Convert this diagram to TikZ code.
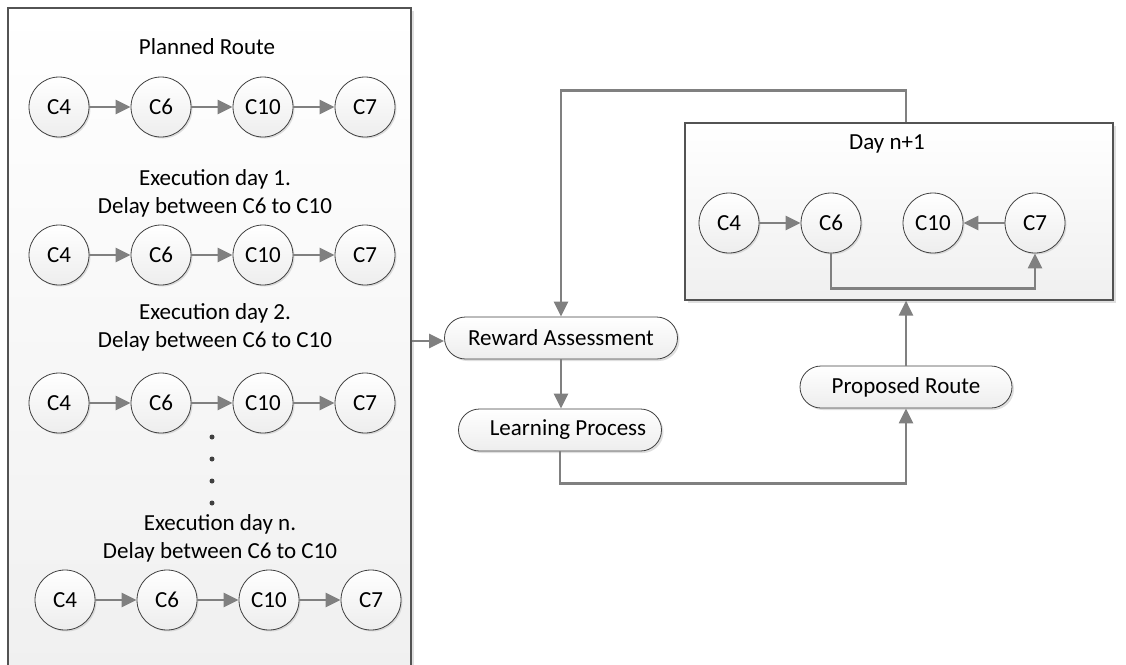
\documentclass[tikz,border=0pt]{standalone}
\usepackage{fontspec}
\setmainfont{Carlito}
\usetikzlibrary{arrows.meta,shadows,positioning}
\definecolor{linegray}{HTML}{808080}
\definecolor{edgegray}{HTML}{404040}
\tikzset{
  every node/.style={font=\fontsize{23}{28}\selectfont},
  city/.style={circle, minimum size=60pt, inner sep=0pt, draw=edgegray, line width=0.8pt,
    top color=white, bottom color=gray!14,
    drop shadow={shadow xshift=1.5pt, shadow yshift=-1.5pt, fill=gray!50, opacity=0.5}},
  procbox/.style={rectangle, rounded corners=21pt, minimum height=42pt, draw=edgegray, line width=0.8pt,
    top color=white, bottom color=gray!14, inner sep=0pt,
    drop shadow={shadow xshift=2pt, shadow yshift=-2pt, fill=gray!50, opacity=0.5}},
  panel/.style={rectangle, draw=edgegray!90, line width=1.2pt, inner sep=0pt,
    top color=white, bottom color=gray!12,
    drop shadow={shadow xshift=2.5pt, shadow yshift=-2.5pt, fill=gray!50, opacity=0.5}},
  arr/.style={draw=linegray, line width=2.4pt, -{Triangle[length=15pt,width=14pt]}},
  lbl/.style={align=center, inner sep=0pt},
  dotmark/.style={circle, fill=edgegray, minimum size=5pt, inner sep=0pt},
}
\begin{document}
\begin{tikzpicture}[x=1pt,y=-1pt]
\useasboundingbox (0,0) rectangle (1126,664);
% panels
\node[panel, minimum width=403pt, minimum height=680pt] (lb) at (209.5,348) {};
\node[panel, minimum width=428pt, minimum height=177pt] (day) at (899,211.5) {};

% left texts
\node[lbl] (t0) at (207,47) {Planned Route};
\node[lbl] (t1) at (215,193) {Execution day 1.\\Delay between C6 to C10};
\node[lbl] (t2) at (215,327) {Execution day 2.\\Delay between C6 to C10};
\node[lbl] (t3) at (220,538) {Execution day n.\\Delay between C6 to C10};

% rows
\foreach \r/\yy/\dx in {a/107/0, b/255/0, c/403/0, d/600/6} {
  \node[city] (\r4) at (59+\dx,\yy) {C4};
  \node[city] (\r6) at (161+\dx,\yy) {C6};
  \node[city] (\r10) at (263+\dx,\yy) {C10};
  \node[city] (\r7) at (365+\dx,\yy) {C7};
  \draw[arr] (\r4) -- (\r6);
  \draw[arr] (\r6) -- (\r10);
  \draw[arr] (\r10) -- (\r7);
}

% dots
\node[dotmark] (p1) at (212,437) {};
\node[dotmark] (p2) at (212,459) {};
\node[dotmark] (p3) at (212,481) {};
\node[dotmark] (p4) at (212,503) {};

% process boxes
\node[procbox, minimum width=233pt] (rw) at (561,338) {Reward Assessment};
\node[procbox, minimum width=203pt] (lp) at (560,430) {\hspace{16pt}Learning Process};
\node[procbox, minimum width=212pt] (pr) at (906,387) {Proposed Route};

% day n+1
\node[lbl] (dt) at (887,144) {Day n+1};
\node[city] (e4) at (729,223) {C4};
\node[city] (e6) at (831,223) {C6};
\node[city] (e10) at (933,223) {C10};
\node[city] (e7) at (1035,223) {C7};
\draw[arr] (e4) -- (e6);
\draw[arr] (e7) -- (e10);
\draw[arr] (e6.south) -- ++(0,35) -| (e7.south);

% connectors
\draw[arr] (rw.west -| lb.east) ++(0,3) -- ([yshift=-3pt]rw.west);
\draw[arr] (rw.south) -- (rw.south |- lp.north);
\draw[arr] (lp.south) -- ++(0,32) -| (pr.south);
\draw[arr] (pr.north) -- (pr.north |- day.south);
\draw[arr] (day.north -| pr.north) -- ++(0,-32) -| (rw.north);
\end{tikzpicture}
\end{document}
